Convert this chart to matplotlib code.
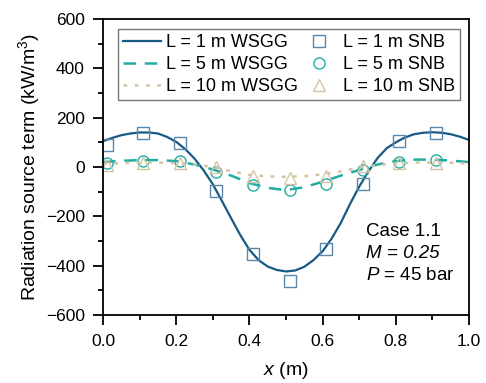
import numpy as np
import matplotlib
matplotlib.use("Agg")
import matplotlib.pyplot as plt
from matplotlib.ticker import MultipleLocator

plt.rcParams['font.family'] = ['Liberation Sans', 'DejaVu Sans']
plt.rcParams['mathtext.fontset'] = 'custom'
plt.rcParams['mathtext.rm'] = 'Liberation Sans'
plt.rcParams['mathtext.it'] = 'Liberation Sans:italic'

# WSGG curves
x_l1 = [0.0, 0.025, 0.05, 0.075, 0.1, 0.125, 0.15, 0.175, 0.2, 0.225, 0.25,
        0.275, 0.3, 0.325, 0.35, 0.375, 0.4, 0.425, 0.45, 0.475, 0.5,
        0.525, 0.55, 0.575, 0.6, 0.625, 0.65, 0.675, 0.7, 0.725, 0.75,
        0.775, 0.8, 0.825, 0.85, 0.875, 0.9, 0.925, 0.95, 0.975, 1.0]
wsgg_1 = [105, 118, 129, 136, 140, 140, 136, 122, 102, 72, 34,
          -14, -70, -138, -208, -276, -336, -378, -404, -418, -424,
          -420, -405, -378, -342, -290, -226, -150, -80, -18, 36,
          76, 100, 120, 133, 139, 141, 139, 133, 123, 110]

x_line = [0.0, 0.05, 0.1, 0.15, 0.2, 0.25, 0.3, 0.35, 0.4, 0.45, 0.5,
          0.55, 0.6, 0.65, 0.7, 0.75, 0.8, 0.85, 0.9, 0.95, 1.0]
wsgg_5 = [20, 25, 28, 28, 24, 10, -10, -35, -65, -85, -94,
          -82, -60, -35, -12, 10, 24, 30, 30, 26, 20]
wsgg_10 = [13, 16, 18, 18, 16, 10, 0, -17, -32, -38, -40,
           -37, -30, -18, -3, 8, 15, 18, 18, 17, 14]

# SNB points
x_snb = [0.01, 0.11, 0.21, 0.31, 0.41, 0.51, 0.61, 0.71, 0.81, 0.91]
snb_1 = [88, 136, 96, -96, -352, -462, -332, -71, 104, 136]
snb_5 = [18, 26, 24, -21, -75, -92, -71, -14, 20, 29]
snb_10 = [10, 18, 18, 0, -35, -43, -35, 2, 18, 18]

c1 = '#175a85'
c5 = '#22ada2'
c10 = '#d6c3a5'

fig = plt.figure(figsize=(4.86, 3.83), dpi=100)
ax = fig.add_axes([0.212, 0.178, 0.753, 0.772])

ax.plot(x_l1, wsgg_1, color=c1, lw=1.6, label='L = 1 m WSGG')
ax.plot(x_snb, snb_1, ls='none', marker='s', ms=8, mfc='none', mec='#5a87aa',
        mew=1.0, label='L = 1 m SNB')
ax.plot(x_line, wsgg_5, color=c5, lw=1.8, ls=(0, (5, 3.5)), label='L = 5 m WSGG')
ax.plot(x_snb, snb_5, ls='none', marker='o', ms=8, mfc='none', mec=c5,
        mew=1.0, label='L = 5 m SNB')
ax.plot(x_line, wsgg_10, color=c10, lw=1.8, ls=(0, (1.5, 3)), label='L = 10 m WSGG')
ax.plot(x_snb, snb_10, ls='none', marker='^', ms=9, mfc='none', mec=c10,
        mew=1.0, label='L = 10 m SNB')

ax.set_xlim(0, 1)
ax.set_ylim(-600, 600)
ax.xaxis.set_major_locator(MultipleLocator(0.2))
ax.xaxis.set_minor_locator(MultipleLocator(0.1))
ax.yaxis.set_major_locator(MultipleLocator(200))
ax.yaxis.set_minor_locator(MultipleLocator(100))
ax.tick_params(which='both', direction='out', labelsize=12.5, width=1.3)
ax.tick_params(which='major', length=7)
ax.tick_params(which='minor', length=3.5)
ax.tick_params(axis='x', which='both', pad=7)
ax.tick_params(axis='y', which='both', pad=6)
for s in ax.spines.values():
    s.set_linewidth(1.3)

ax.set_xlabel('$x$ (m)', fontsize=14, labelpad=8)
ax.set_ylabel('Radiation source term (kW/m$^3$)', fontsize=14, labelpad=3)

handles, labels = ax.get_legend_handles_labels()
order = [0, 2, 4, 1, 3, 5]
leg = ax.legend([handles[i] for i in order], [labels[i] for i in order],
                ncol=2, loc='upper right', bbox_to_anchor=(0.975, 0.965),
                fontsize=13, frameon=True, fancybox=False, edgecolor='#555555',
                handlelength=2.1, columnspacing=0.1, handletextpad=0.3,
                labelspacing=0.28, borderpad=0.25, borderaxespad=0)
leg.get_frame().set_linewidth(1.0)

ax.text(0.719, 0.281, 'Case 1.1', transform=ax.transAxes, fontsize=13.5, va='center')
ax.text(0.719, 0.207, 'M = 0.25', transform=ax.transAxes, fontsize=13.5,
        style='italic', va='center')
ax.text(0.719, 0.132, '$P$ = 45 bar', transform=ax.transAxes, fontsize=13.5, va='center')

fig.savefig('out.png', dpi=100)
